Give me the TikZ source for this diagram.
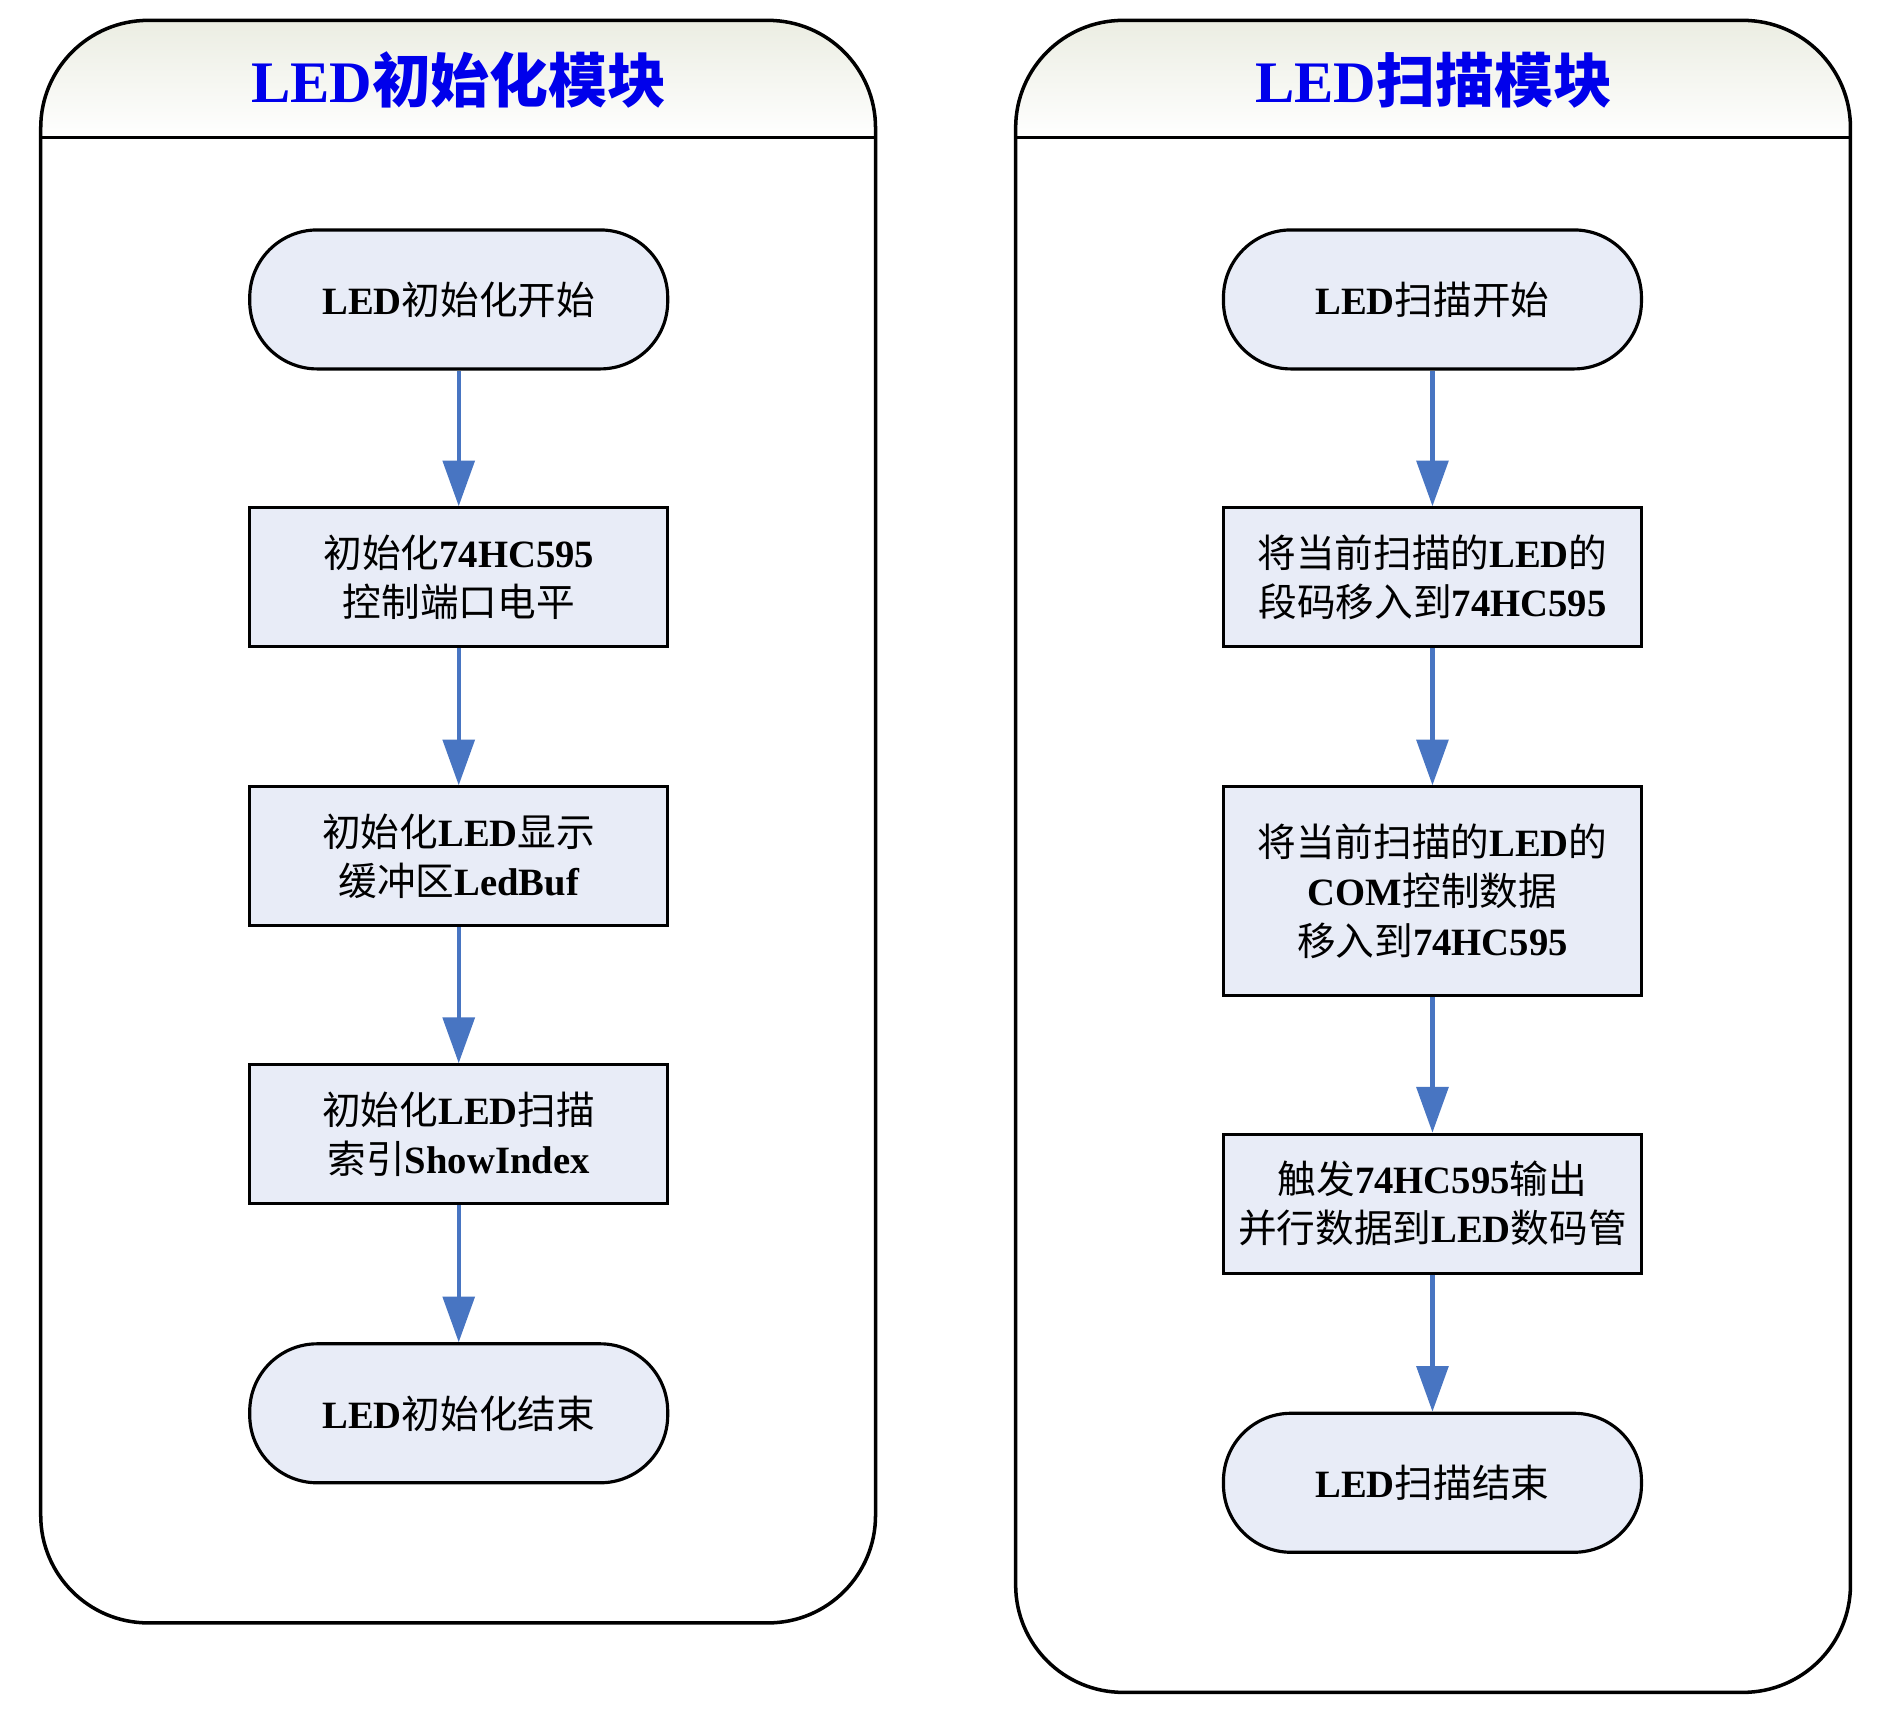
\documentclass[tikz,border=0pt]{standalone}
\usepackage{fontspec}
\setmainfont{Liberation Serif}
\newfontfamily\cjk{Noto Sans CJK SC}
\usetikzlibrary{arrows.meta}
\definecolor{stepfill}{RGB}{232,236,247}
\definecolor{flowblue}{RGB}{72,117,194}
\definecolor{lanetop}{RGB}{235,237,226}
\definecolor{titleblue}{RGB}{0,0,235}
\newcommand{\zh}[1]{{\cjk\mdseries #1}}
\newcommand{\zhb}[1]{{\cjk #1}}
\tikzset{
  lane/.style={line width=2pt},
  lanetitle/.style={text=titleblue, font=\bfseries\fontsize{33.5}{40}\selectfont},
  proc/.style={draw, line width=1.8pt, fill=stepfill, minimum width=8.36cm,
    minimum height=2.78cm, align=center, inner sep=2pt,
    font=\bfseries\fontsize{22}{28}\selectfont},
  term/.style={proc, rounded corners=1.35cm},
  flow/.style={draw=flowblue, line width=2.4pt, -{Triangle[length=26pt,width=18pt]}}
}
\begin{document}
\begin{tikzpicture}[x=0.02395cm, y=0.02395cm]
  \useasboundingbox (0,0) rectangle (1568,-1432);
  % the two lanes
  \foreach \xl/\xr/\yb in {34/731/1355, 848/1545/1413} {
    \begin{scope}
      \clip[rounded corners=2.15cm] (\xl,-17) rectangle (\xr,-\yb);
      \shade[top color=lanetop, bottom color=white] (\xl,-17) rectangle (\xr,-115);
    \end{scope}
    \draw[lane, rounded corners=2.15cm] (\xl,-17) rectangle (\xr,-\yb);
    \draw[lane] (\xl,-115) -- (\xr,-115);
  }
  \node[lanetitle] (ltitle) at (383,-67) {LED\zhb{初始化模块}};
  \node[lanetitle] (rtitle) at (1197,-67) {LED\zhb{扫描模块}};
  % init
  \node[term] (lstart) at (383,-250) {LED\zh{初始化开始}};
  \node[proc] (linit1) at (383,-482) {\zh{初始化}74HC595\\\zh{控制端口电平}};
  \node[proc] (linit2) at (383,-715) {\zh{初始化}LED\zh{显示}\\\zh{缓冲区}LedBuf};
  \node[proc] (linit3) at (383,-947) {\zh{初始化}LED\zh{扫描}\\\zh{索引}ShowIndex};
  \node[term] (lend) at (383,-1180) {LED\zh{初始化结束}};
  % scan
  \node[term] (rstart) at (1196,-250) {LED\zh{扫描开始}};
  \node[proc] (rseg) at (1196,-482) {\zh{将当前扫描的}LED\zh{的}\\\zh{段码移入到}74HC595};
  \node[proc, minimum height=4.17cm] (rcom) at (1196,-744)
    {\zh{将当前扫描的}LED\zh{的}\\COM\zh{控制数据}\\\zh{移入到}74HC595};
  \node[proc] (rlatch) at (1196,-1005) {\zh{触发}74HC595\zh{输出}\\\zh{并行数据到}LED\zh{数码管}};
  \node[term] (rend) at (1196,-1238) {LED\zh{扫描结束}};
  \foreach \a/\b in {lstart/linit1, linit1/linit2, linit2/linit3, linit3/lend,
      rstart/rseg, rseg/rcom, rcom/rlatch, rlatch/rend}
    \draw[flow] (\a) -- (\b);
\end{tikzpicture}
\end{document}
